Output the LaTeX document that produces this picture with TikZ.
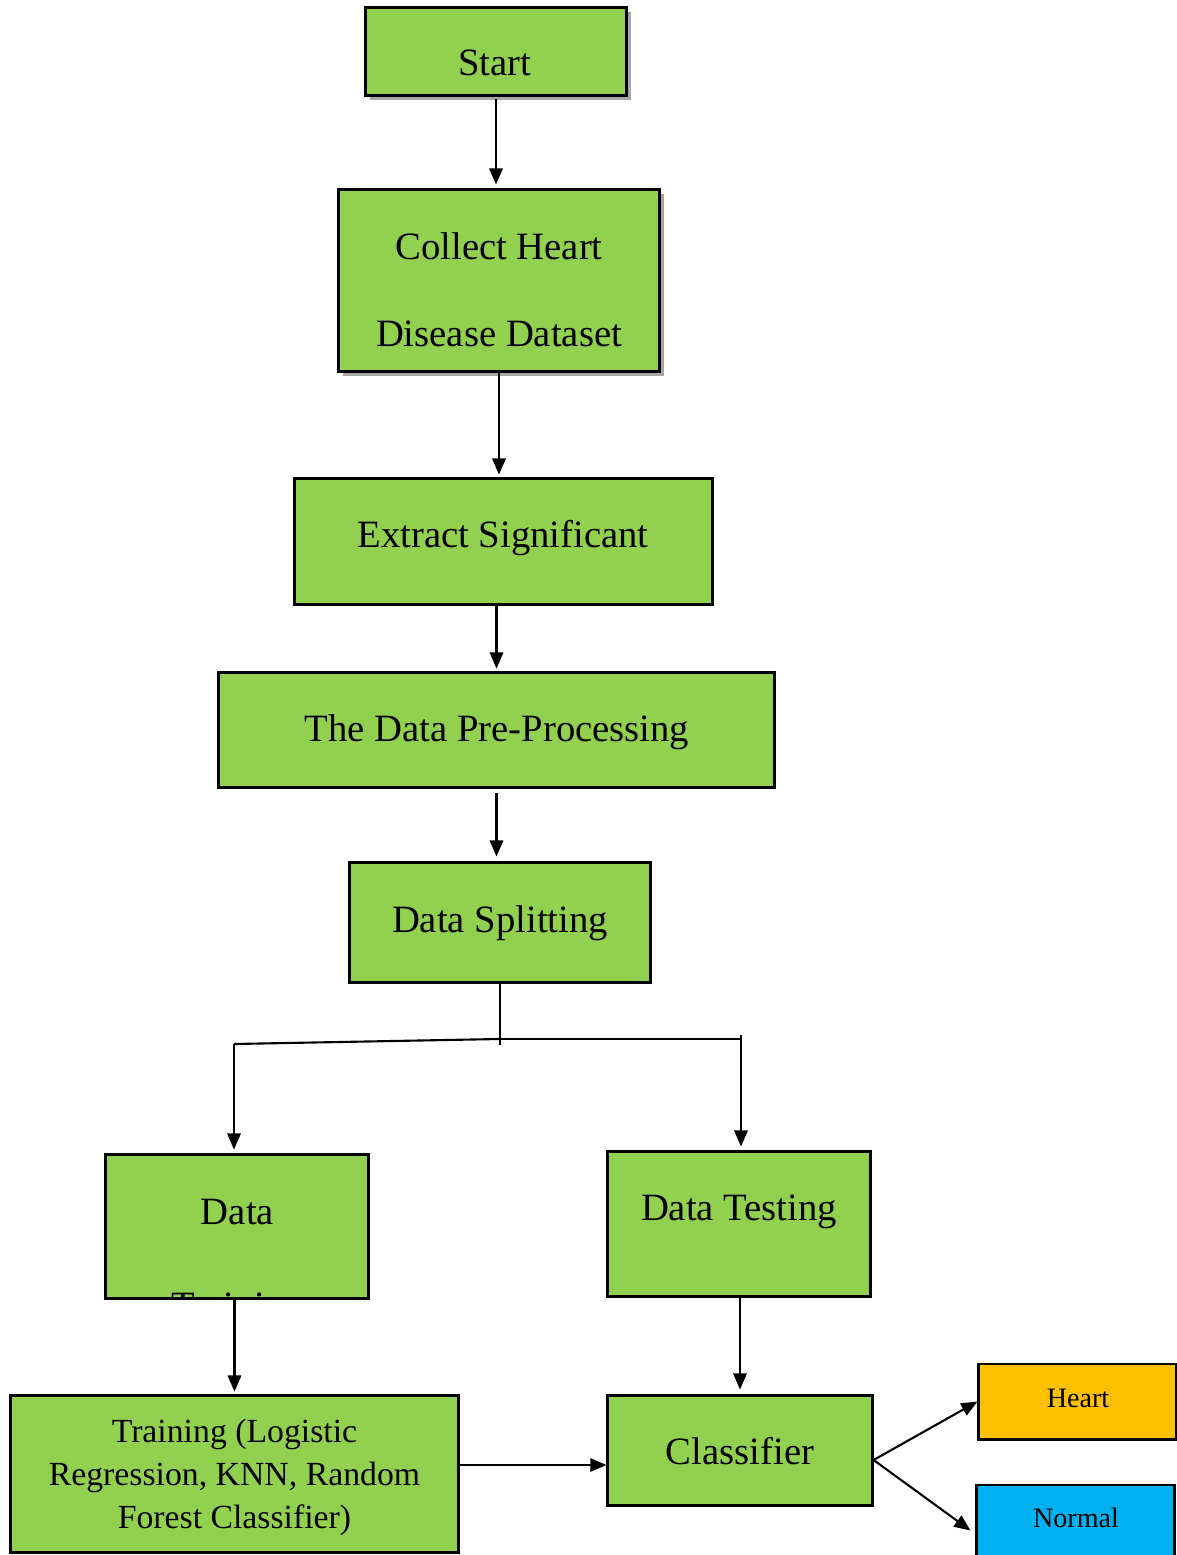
\documentclass[tikz,border=0pt]{standalone}
\usepackage{fontspec}
\setmainfont{Liberation Serif}
\usetikzlibrary{arrows.meta,shadows}

\definecolor{leaf}{HTML}{92D050}
\definecolor{amber}{HTML}{FFC000}
\definecolor{sky}{HTML}{00B0F0}

\begin{document}
\begin{tikzpicture}[x=0.01cm,y=-0.01cm,
    box/.style={draw,line width=0.85pt,fill=leaf,inner sep=0pt},
    shadowbox/.style={box,drop shadow={shadow xshift=0.045cm,shadow yshift=-0.045cm,fill=black!35,opacity=1}},
    big/.style={font=\fontsize{11}{24.7}\selectfont,inner sep=0pt,align=center},
    mid/.style={font=\fontsize{9.6}{12.2}\selectfont,inner sep=0pt,align=center},
    small/.style={font=\fontsize{8}{9}\selectfont,inner sep=0pt},
    arr/.style={line width=0.6pt,-{Triangle[length=4.6pt,width=3.8pt]}}]
  \useasboundingbox (0,0) rectangle (1177,1555);

  % boxes
  \node[shadowbox,minimum width=2.60cm,minimum height=0.87cm] (start) at (496,51.5) {};
  \node[shadowbox,minimum width=3.20cm,minimum height=1.81cm] (collect) at (499,280.5) {};
  \node[box,minimum width=4.17cm,minimum height=1.25cm] (extract) at (503.5,541.5) {};
  \node[box,minimum width=5.55cm,minimum height=1.14cm] (pre) at (496.5,730) {};
  \node[box,minimum width=3.00cm,minimum height=1.19cm] (split) at (500,922.5) {};
  \node[box,minimum width=2.62cm,minimum height=1.43cm] (trn) at (237,1226.5) {};
  \node[box,minimum width=2.62cm,minimum height=1.44cm] (tst) at (739,1224) {};
  \node[box,minimum width=4.47cm,minimum height=1.56cm] (algo) at (234.5,1474) {};
  \node[box,minimum width=2.64cm,minimum height=1.09cm] (cls) at (740,1450.5) {};
  \node[box,fill=amber,minimum width=1.97cm,minimum height=0.75cm] (heart) at (1077.5,1401.5) {};
  \node[box,fill=sky,minimum width=1.97cm,minimum height=0.75cm] (normal) at (1075.5,1522.5) {};

  % texts
  \node[big,anchor=base] (start-txt) at (495,76) {Start};
  \node[big] (collect-txt) at (499,290) {Collect Heart\\Disease Dataset};
  \node[big,anchor=base] (extract-txt) at (503,547) {Extract Significant};
  \node[big,anchor=base] (pre-txt) at (497,741) {The Data Pre-Processing};
  \node[big,anchor=base] (split-txt) at (500,932) {Data Splitting};
  \begin{scope}
    \clip (trn.south west) rectangle (trn.north east);
    \node[big] (trn-txt) at (237.5,1263) {Data\\[0.07cm]Training};
  \end{scope}
  \node[big,anchor=base] (tst-txt) at (739,1220) {Data Testing};
  \node[mid] (algo-txt) at (234.5,1477.5) {Training (Logistic\\Regression, KNN, Random\\Forest Classifier)};
  \node[big,anchor=base] (cls-txt) at (740,1464) {Classifier};
  \node[small,anchor=base] (heart-txt) at (1078,1407) {Heart};
  \node[small,anchor=base] (normal-txt) at (1076,1527) {Normal};

  % arrows
  \draw[arr,shorten <=0.8pt,shorten >=1.1pt] (start.south) -- (start.south |- collect.north);
  \draw[arr,shorten >=0.8pt] (collect.south) -- (collect.south |- extract.north);
  \draw[arr,shorten >=0.8pt] (extract.south -| pre.north) -- (pre.north);
  \draw[arr,shorten <=1.4pt,shorten >=1.4pt] (pre.south) -- (pre.south |- split.north);

  % split into training and testing
  \coordinate (fork) at (499,1039);
  \coordinate (lft) at (234,1044);
  \coordinate (rgt) at (741,1035);
  \draw[line width=0.6pt] (split.south) -- ++(0,61);
  \draw[line width=0.6pt] (fork) -- (lft);
  \draw[line width=0.6pt] (fork) -- (rgt |- fork) -- (rgt);
  \draw[arr,shorten >=1.1pt] (lft) -- (lft |- trn.north);
  \draw[arr,shorten >=1.1pt] (rgt) -- (rgt |- tst.north);

  \draw[arr,shorten >=0.8pt] (trn.south -| algo.north) -- (algo.north);
  \draw[arr,shorten >=1.4pt] (tst.south -| cls.north) -- (cls.north);
  \draw[arr] (algo.east |- 0,1465) -- (cls.west |- 0,1465);
  \draw[arr] (cls.east |- 0,1460) -- (heart.west);
  \draw[arr] (cls.east |- 0,1460) -- ([shift={(-5,8)}]normal.west);
\end{tikzpicture}
\end{document}
